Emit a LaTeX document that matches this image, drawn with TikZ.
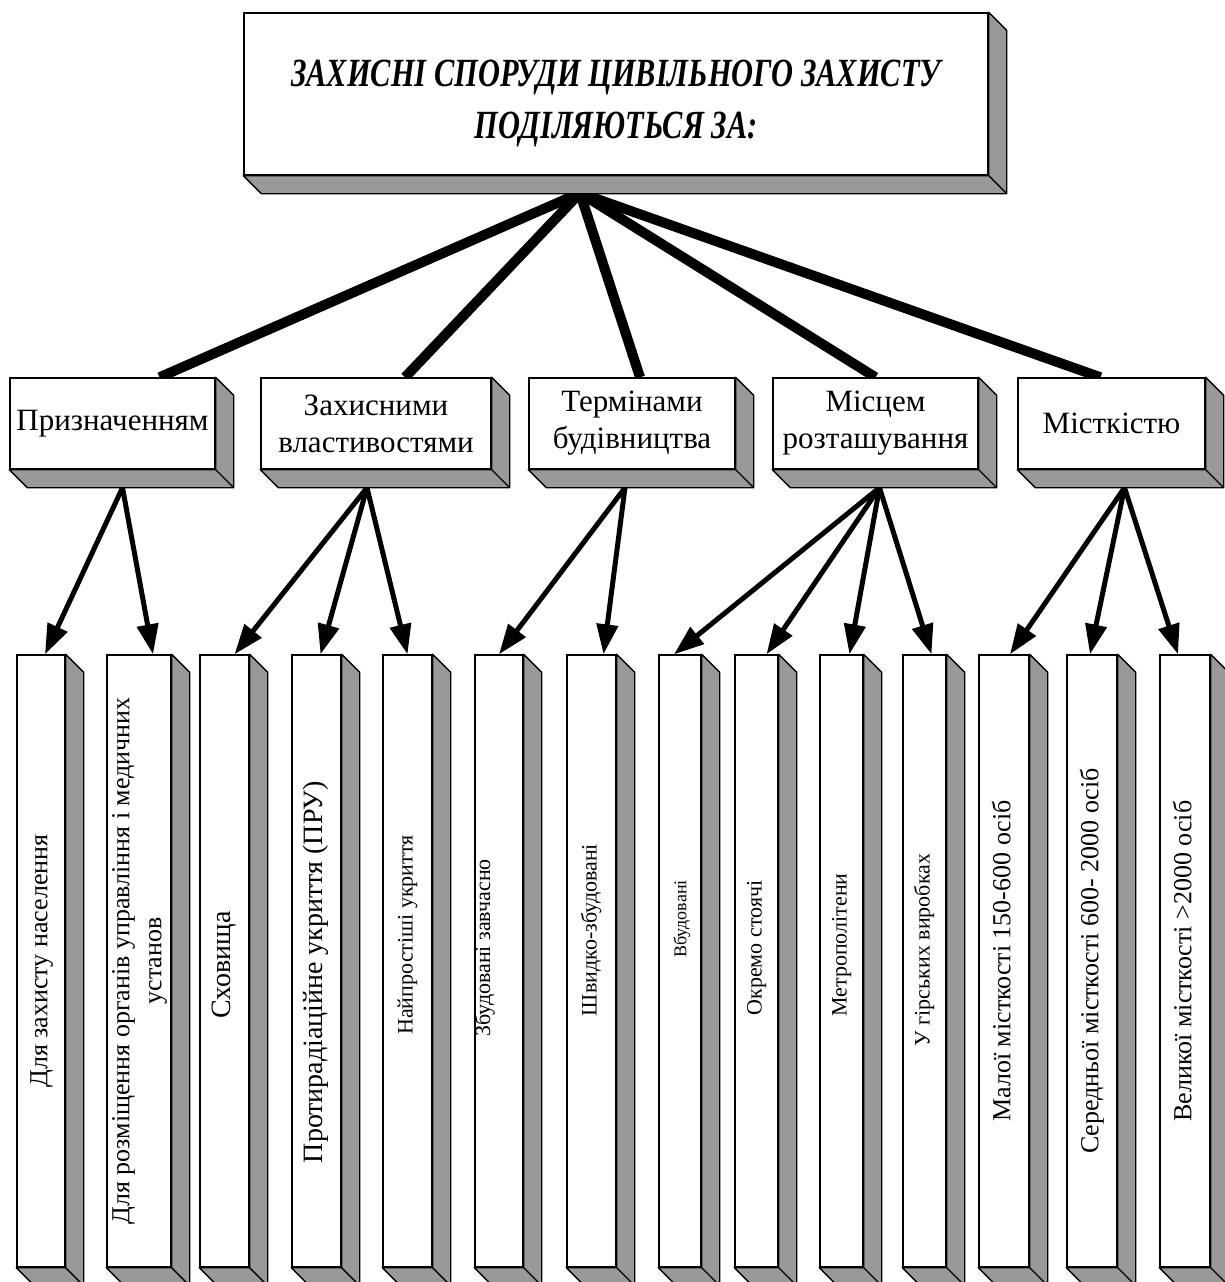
\documentclass[tikz,border=0pt]{standalone}
\usepackage{fontspec}
\usepackage{graphicx}
\setmainfont{Liberation Serif}
\newfontfamily\titlefont[FakeStretch=0.76]{Liberation Serif}
\usetikzlibrary{arrows.meta, positioning, backgrounds}
\definecolor{sidegray}{RGB}{153,153,153}

% rotated text: #1 = shift up, #2 = shift left
\newcommand{\vlabel}[3]{\rotatebox{90}{\raisebox{#2}[\height][\depth]{\hspace*{#1}\begin{tabular}{@{}c@{}}#3\end{tabular}\hspace*{-#1}}}}

\begin{document}
\begin{tikzpicture}[
  x=1pt, y=-1pt,
  >={Triangle[length=30pt,width=21pt]},
  slab/.style={draw, line width=1.4pt, fill=white, inner sep=0pt, align=center},
  head/.style={slab, minimum width=744pt, minimum height=162pt, font=\titlefont\bfseries\itshape\fontsize{40}{52}\selectfont},
  group/.style={slab, minimum height=91pt, font=\fontsize{31}{37}\selectfont},
  leaf/.style={slab, minimum height=612pt, font=\fontsize{26}{32}\selectfont},
  small/.style={font=\fontsize{22}{26}\selectfont},
  large/.style={font=\fontsize{28}{32}\selectfont},
  trunk/.style={line width=10pt},
  branch/.style={->, line width=5pt},
]
  \useasboundingbox (0,0) rectangle (1224,1282);

  \node[head] (top) at (616,94) {\raisebox{-8pt}[\height][\depth]{\begin{tabular}{@{}c@{}}ЗАХИСНІ СПОРУДИ ЦИВІЛЬНОГО ЗАХИСТУ\\ПОДІЛЯЮТЬСЯ ЗА:\end{tabular}}};

  \node[group, minimum width=205pt] (m1) at (112.5,423.5) {Призначенням};
  \node[group, minimum width=230pt] (m2) at (376,423.5) {Захисними\\властивостями};
  \node[group, minimum width=206pt] (m3) at (632,423.5) {Термінами\\будівництва};
  \node[group, minimum width=205pt] (m4) at (875.5,423.5) {Місцем\\розташування};
  \node[group, minimum width=187pt] (m5) at (1111.5,423.5) {Місткістю};

  \node[leaf, minimum width=48pt] (b1) at (41,961) {\vlabel{0pt}{0pt}{Для захисту населення}};
  \node[leaf, minimum width=62pt] (b2) at (139,961) {\vlabel{0pt}{0pt}{Для розміщення органів управління і медичних\\установ}};
  \node[leaf, large, minimum width=49pt] (b3) at (224.5,961) {\vlabel{-4pt}{0pt}{Сховища}};
  \node[leaf, large, minimum width=49pt] (b4) at (316.5,961) {\vlabel{-11pt}{0pt}{Протирадіаційне укриття (ПРУ)}};
  \node[leaf, small, minimum width=49pt] (b5) at (407.5,961) {\vlabel{26pt}{0pt}{Найпростіші укриття}};
  \node[leaf, small, minimum width=48pt] (b6) at (499,961) {\vlabel{13pt}{14pt}{Збудовані завчасно}};
  \node[leaf, small, minimum width=49pt] (b7) at (591.5,961) {\vlabel{31pt}{0pt}{Швидко-збудовані}};
  \node[leaf, minimum width=42pt] (b8) at (680,961) {\vlabel{42pt}{0pt}{\fontsize{18}{20}\selectfont Вбудовані}};
  \node[leaf, small, minimum width=43pt] (b9) at (756.5,961) {\vlabel{13pt}{0pt}{Окремо стоячі}};
  \node[leaf, small, minimum width=43pt] (b10) at (841.5,961) {\vlabel{16pt}{0pt}{Метрополітени}};
  \node[leaf, small, minimum width=43pt] (b11) at (924.5,961) {\vlabel{11pt}{0pt}{У гірських виробках}};
  \node[leaf, minimum width=50pt] (b12) at (1004,961) {\vlabel{0pt}{0pt}{Малої місткості 150-600 осіб}};
  \node[leaf, minimum width=50pt] (b13) at (1092,961) {\vlabel{0pt}{0pt}{Середньої місткості 600- 2000 осіб}};
  \node[leaf, minimum width=50pt] (b14) at (1185,961) {\vlabel{0pt}{0pt}{Великої місткості >2000 осіб}};

  % shaded sides of the boxes
  \foreach \n in {top,m1,m2,m3,m4,m5,b1,b2,b3,b4,b5,b6,b7,b8,b9,b10,b11,b12,b13,b14}
    \filldraw[fill=sidegray, line width=1.4pt, line join=round]
      (\n.north east) -- ++(18,18) -- ([shift={(18,18)}]\n.south east)
      -- ([shift={(18,18)}]\n.south west) -- (\n.south west) -- (\n.south east) -- cycle
      (\n.south east) -- ++(18,18);

  \coordinate (hub) at (580,193);
  \coordinate (f1) at ([shift={(10,18)}]m1.south);
  \coordinate (f2) at ([shift={(-9,18)}]m2.south);
  \coordinate (f3) at ([shift={(-7,18)}]m3.south);
  \coordinate (f4) at ([shift={(4,18)}]m4.south);
  \coordinate (f5) at ([shift={(13,18)}]m5.south);

  \begin{scope}[on background layer]
    \draw[trunk] (hub) -- ([xshift=47pt]m1.north);
    \draw[trunk] (hub) -- ([xshift=29pt]m2.north);
    \draw[trunk] (hub) -- ([xshift=8pt]m3.north);
    \draw[trunk] (hub) -- (m4.north);
    \draw[trunk] (hub) -- ([xshift=-11pt]m5.north);

    \draw[branch] (f1) -- ([xshift=4pt]b1.north);
    \draw[branch] (f1) -- ([xshift=14pt]b2.north);
    \draw[branch] (f2) -- ([xshift=10pt]b3.north);
    \draw[branch] (f2) -- ([xshift=4pt]b4.north);
    \draw[branch] (f2) -- (b5.north);
    \draw[branch] (f3) -- (b6.north);
    \draw[branch] (f3) -- ([xshift=12pt]b7.north);
    \draw[branch] (f4) -- ([xshift=-6pt]b8.north);
    \draw[branch] (f4) -- ([xshift=10pt]b9.north);
    \draw[branch] (f4) -- ([xshift=8pt]b10.north);
    \draw[branch] (f4) -- ([xshift=7pt]b11.north);
    \draw[branch] (f5) -- ([xshift=6pt]b12.north);
    \draw[branch] (f5) -- ([xshift=-2pt]b13.north);
    \draw[branch] (f5) -- ([xshift=-7pt]b14.north);
  \end{scope}
\end{tikzpicture}
\end{document}
